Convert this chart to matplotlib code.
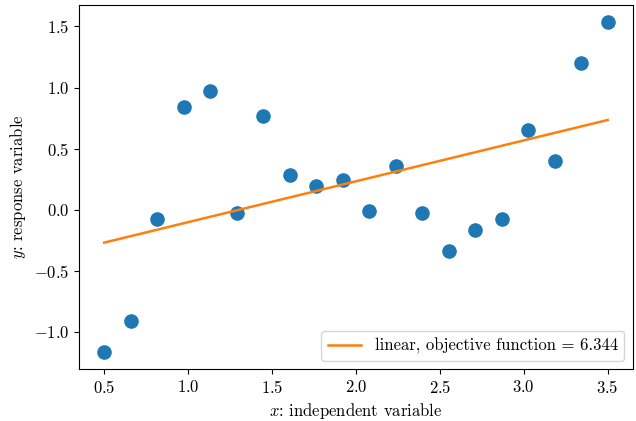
import numpy as np
import matplotlib
matplotlib.use("Agg")
import matplotlib.pyplot as plt

plt.rcParams['font.family'] = 'serif'
plt.rcParams['font.serif'] = ['cmr10']
plt.rcParams['mathtext.fontset'] = 'cm'
plt.rcParams['axes.formatter.use_mathtext'] = True
plt.rcParams['font.size'] = 12

# observations
x = np.linspace(0.5, 3.5, 20)
y = [-1.17, -0.91, -0.08, 0.84, 0.97, -0.03, 0.77, 0.28, 0.19, 0.245,
     -0.015, 0.36, -0.025, -0.335, -0.17, -0.08, 0.655, 0.40, 1.20, 1.54]

# least squares line
coef = np.polyfit(x, y, 1)
y_fit = np.polyval(coef, x)

fig, ax = plt.subplots(figsize=(6.36, 4.21), dpi=100)
fig.subplots_adjust(left=0.124, right=0.995, top=0.988, bottom=0.1235)

ax.scatter(x, y, s=90, color='#1f77b4', zorder=2)
ax.plot(x, y_fit, color='#ff7f0e', lw=1.8, label='linear, objective function = 6.344')

ax.set_xlabel('$x$: independent variable')
ax.set_ylabel('$y$: response variable')
ax.legend(loc='lower right')

plt.savefig('out.png', dpi=100)
